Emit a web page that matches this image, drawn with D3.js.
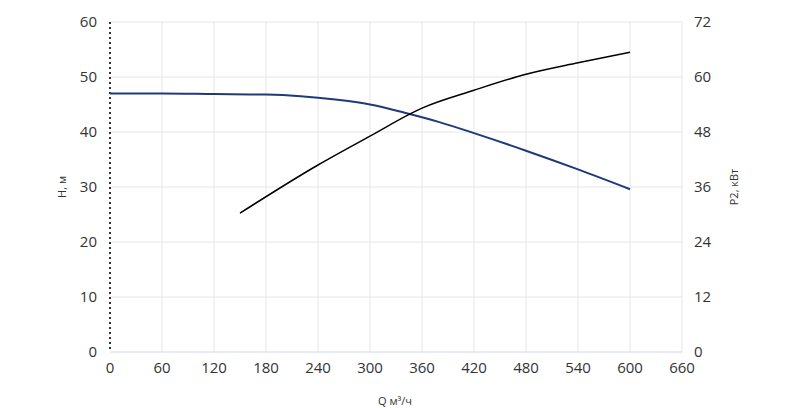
<!DOCTYPE html>
<html><head><meta charset="utf-8">
<script src="https://cdn.jsdelivr.net/npm/d3@7"></script>
<style>body{margin:0;background:#fff}text{font-family:"Open Sans",sans-serif}</style>
</head><body><div id="chart"></div>
<script>
var hQ = [0, 60, 120, 180, 220, 260, 300, 340, 380, 420, 480, 540, 600];
var hVal = [47, 47, 46.9, 46.8, 46.5, 45.9, 45, 43.5, 41.8, 39.8, 36.6, 33.2, 29.6];
var pQ = [150, 240, 300, 360, 420, 480, 540, 600];
var pVal = [30.3, 40.8, 47.1, 53.2, 57.1, 60.6, 63.1, 65.4];
var xTicks = d3.range(0, 661, 60);
var hTicks = d3.range(0, 61, 10);
var pTicks = d3.range(0, 73, 12);

var width = 800, height = 408;
var svg = d3.select('#chart').append('svg').attr('width', width).attr('height', height);

var x = d3.scaleLinear().domain([0, 660]).range([110, 682]);
var yH = d3.scaleLinear().domain([0, 60]).range([352, 22]);
var yP = d3.scaleLinear().domain([0, 72]).range([352, 22]);

// grid
svg.append('g').selectAll('line').data(xTicks.slice(1)).enter().append('line')
	.attr('x1', d => x(d)).attr('x2', d => x(d)).attr('y1', 22).attr('y2', 352)
	.attr('stroke', '#e6e6e6');
svg.append('g').selectAll('line').data(hTicks.slice(1)).enter().append('line')
	.attr('x1', 110).attr('x2', 682).attr('y1', d => yH(d)).attr('y2', d => yH(d))
	.attr('stroke', '#e6e6e6');

// bottom axis
svg.append('line').attr('x1', 110).attr('x2', 682).attr('y1', 352).attr('y2', 352).attr('stroke', '#ccd6eb');
svg.append('g').selectAll('text').data(xTicks).enter().append('text')
	.attr('x', d => x(d)).attr('y', 373).attr('text-anchor', 'middle')
	.attr('font-size', 15).attr('fill', '#333').text(d => d);

// left axis (dotted)
svg.append('line').attr('x1', 110).attr('x2', 110).attr('y1', 22).attr('y2', 352)
	.attr('stroke', '#333').attr('stroke-width', 2).attr('stroke-dasharray', '2,3');
svg.append('g').selectAll('text').data(hTicks).enter().append('text')
	.attr('x', 97).attr('y', d => yH(d) + 5).attr('text-anchor', 'end')
	.attr('font-size', 15).attr('fill', '#333').text(d => d);
svg.append('g').selectAll('text').data(pTicks).enter().append('text')
	.attr('x', 694).attr('y', d => yP(d) + 5).attr('text-anchor', 'start')
	.attr('font-size', 15).attr('fill', '#333').text(d => d);

svg.append('text').attr('transform', 'translate(66,187) rotate(-90)').attr('text-anchor', 'middle')
	.attr('font-size', 11).attr('fill', '#333').text('H, м');
svg.append('text').attr('transform', 'translate(738,187) rotate(-90)').attr('text-anchor', 'middle')
	.attr('font-size', 11).attr('fill', '#333').text('P2, кВт');
svg.append('text').attr('x', 395).attr('y', 405).attr('text-anchor', 'middle')
	.attr('font-size', 11).attr('fill', '#333').text('Q м³/ч');

var line = d3.line().curve(d3.curveMonotoneX);
svg.append('path').attr('d', line(hQ.map((q, i) => [x(q), yH(hVal[i])])))
	.attr('fill', 'none').attr('stroke', '#1f3a7a').attr('stroke-width', 2);
svg.append('path').attr('d', line(pQ.map((q, i) => [x(q), yP(pVal[i])])))
	.attr('fill', 'none').attr('stroke', '#000').attr('stroke-width', 1.5);
</script></body></html>
